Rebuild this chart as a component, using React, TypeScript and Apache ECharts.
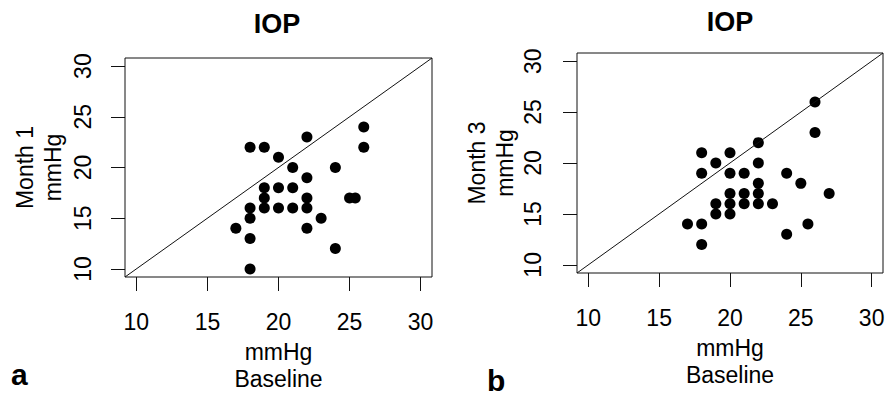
import React, { useEffect, useRef } from "react";
import * as echarts from "echarts";

// Panel a: Baseline vs Month 1 (IOP, mmHg)
const month1Baseline = [17, 18, 18, 18, 18, 18, 19, 19, 19, 19, 20, 20, 20, 21, 21, 21, 22, 22, 22, 22, 22, 23, 24, 24, 25, 25.4, 26, 26];
const month1Values = [14, 22, 16, 15, 13, 10, 22, 18, 17, 16, 21, 18, 16, 20, 18, 16, 23, 19, 17, 16, 14, 15, 20, 12, 17, 17, 24, 22];

// Panel b: Baseline vs Month 3 (IOP, mmHg)
const month3Baseline = [17, 18, 18, 18, 18, 19, 19, 19, 20, 20, 20, 20, 20, 21, 21, 21, 22, 22, 22, 22, 22, 23, 24, 24, 25, 25.5, 26, 26, 27];
const month3Values = [14, 21, 19, 14, 12, 20, 16, 15, 21, 19, 17, 16, 15, 19, 17, 16, 22, 20, 18, 17, 16, 16, 19, 13, 18, 14, 26, 23, 17];

const tickValues = [10, 15, 20, 25, 30];
const axisMin = 9.2;
const axisMax = 30.8;
const identityLine = [[axisMin, axisMin], [axisMax, axisMax]];

const titles = ["IOP", "IOP"];
const panelLetters = ["a", "b"];
const yTitles = ["Month 1\nmmHg", "Month 3\nmmHg"];
const xTitle = "mmHg\nBaseline";

const FONT = "'Liberation Sans', Arial, Helvetica, sans-serif";

export default function App() {
  const ref = useRef<HTMLDivElement>(null);
  useEffect(() => {
    if (!ref.current) return;
    const chart = echarts.init(ref.current, undefined, { renderer: "svg" });
    const grids = [
      { left: 125, top: 58, width: 307, height: 219 },
      { left: 577, top: 53, width: 306, height: 220 },
    ];
    const yLabelMargins = [31, 33];
    const titleCenters = [
      { x: 277, y: 23.5 },
      { x: 730, y: 22 },
    ];
    const mkX = (i: number) => ({
      type: "value",
      gridIndex: i,
      min: axisMin,
      max: axisMax,
      name: xTitle,
      nameLocation: "middle",
      nameGap: 61,
      nameTextStyle: { fontFamily: FONT, fontSize: 23, color: "#000", lineHeight: 27 },
      axisLine: { show: false },
      axisTick: { show: true, inside: false, length: 14, customValues: tickValues, lineStyle: { color: "#111", width: 1 } },
      axisLabel: { show: true, customValues: tickValues, margin: 33, fontFamily: FONT, fontSize: 23, color: "#000" },
      splitLine: { show: false },
    });
    const mkY = (i: number) => ({
      type: "value",
      gridIndex: i,
      min: axisMin,
      max: axisMax,
      name: yTitles[i],
      nameLocation: "middle",
      nameRotate: 90,
      nameGap: 58,
      nameTextStyle: { fontFamily: FONT, fontSize: 23, color: "#000", lineHeight: 28 },
      axisLine: { show: false },
      axisTick: { show: true, inside: false, length: 14, customValues: tickValues, lineStyle: { color: "#111", width: 1 } },
      axisLabel: { show: true, customValues: tickValues, rotate: 90, margin: yLabelMargins[i], fontFamily: FONT, fontSize: 23, color: "#000" },
      splitLine: { show: false },
    });
    const pts = (xs: number[], ys: number[]) => xs.map((x, k) => [x, ys[k]]);
    chart.setOption({
      animation: false,
      backgroundColor: "#fff",
      title: titles.map((t, i) => ({
        text: t,
        left: titleCenters[i].x,
        top: titleCenters[i].y - 15,
        textAlign: "center",
        padding: 0,
        textStyle: { fontFamily: FONT, fontSize: 27, fontWeight: "bold", color: "#000", lineHeight: 30 },
      })),
      grid: grids.map((g) => ({ ...g, show: true, borderColor: "#111", borderWidth: 1, backgroundColor: "transparent", containLabel: false })),
      xAxis: [mkX(0), mkX(1)],
      yAxis: [mkY(0), mkY(1)],
      graphic: [
        { type: "text", x: 11, y: 389, style: { text: panelLetters[0], font: `bold 30px ${FONT}`, fill: "#000", textAlign: "left", textVerticalAlign: "bottom", align: "left", verticalAlign: "bottom" } },
        { type: "text", x: 487, y: 395, style: { text: panelLetters[1], font: `bold 30px ${FONT}`, fill: "#000", textAlign: "left", textVerticalAlign: "bottom", align: "left", verticalAlign: "bottom" } },
      ],
      series: [
        { type: "line", xAxisIndex: 0, yAxisIndex: 0, data: identityLine, symbol: "none", lineStyle: { color: "#111", width: 1 }, silent: true },
        { type: "scatter", xAxisIndex: 0, yAxisIndex: 0, data: pts(month1Baseline, month1Values), symbol: "circle", symbolSize: 11, itemStyle: { color: "#000", opacity: 1 } },
        { type: "line", xAxisIndex: 1, yAxisIndex: 1, data: identityLine, symbol: "none", lineStyle: { color: "#111", width: 1 }, silent: true },
        { type: "scatter", xAxisIndex: 1, yAxisIndex: 1, data: pts(month3Baseline, month3Values), symbol: "circle", symbolSize: 11, itemStyle: { color: "#000", opacity: 1 } },
      ],
    });
    return () => chart.dispose();
  }, []);
  return <div ref={ref} style={{ position: "absolute", left: 0, top: 0, width: 896, height: 399 }} />;
}
